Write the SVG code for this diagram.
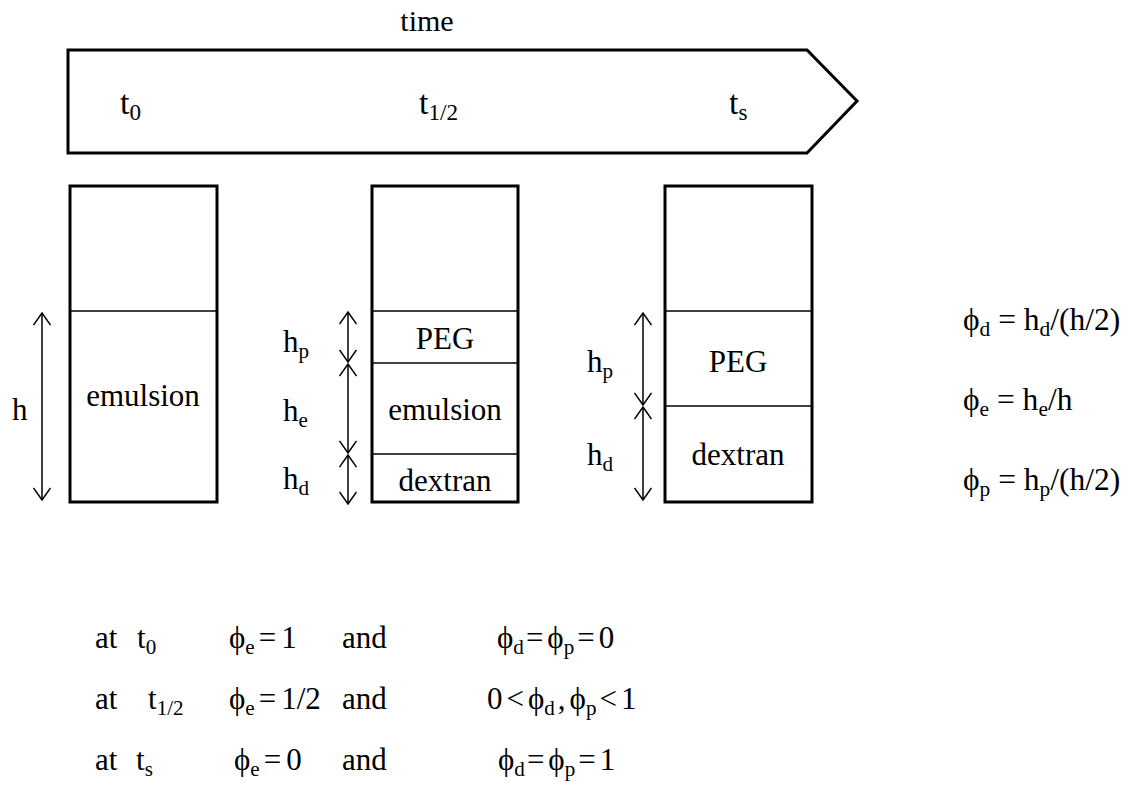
<svg xmlns="http://www.w3.org/2000/svg" width="1132" height="789" viewBox="0 0 1132 789">
<style>
text{font-family:"Liberation Serif","Times New Roman",serif;fill:#000}
.t{font-size:34px}
.l{font-size:31px}
.f{font-size:31.5px}
.b{font-size:31px}
.tm{font-size:30px}
.s{font-size:0.68em}
.box{fill:none;stroke:#000;stroke-width:3}
.div{stroke:#000;stroke-width:1.5}
.dim{stroke:#000;stroke-width:1.5;fill:none}
</style>
<defs>
<marker id="ah" viewBox="0 0 14 18" refX="13" refY="9" markerWidth="14" markerHeight="18" markerUnits="userSpaceOnUse" orient="auto-start-reverse">
<path d="M1,0.5 L13,9 L1,17.5" fill="none" stroke="#000" stroke-width="1.5"/>
</marker>
</defs>
<g id="timeline">
<text x="427" y="31" text-anchor="middle" class="tm">time</text>
<path d="M68,50 L807,50 L857,101 L807,153 L68,153 Z" fill="none" stroke="#000" stroke-width="3"/>
<text x="120" y="114" class="t">t<tspan class="s" dy="6">0</tspan></text>
<text x="419" y="114" class="t">t<tspan class="s" dy="6">1/2</tspan></text>
<text x="729" y="114" class="t">t<tspan class="s" dy="6">s</tspan></text>
</g>
<g id="box-t0">
<rect x="70" y="186" width="147" height="316" class="box"/>
<line x1="70" y1="311" x2="217" y2="311" class="div"/>
<text x="143" y="406" text-anchor="middle" class="l">emulsion</text>
</g>
<g id="box-thalf">
<rect x="372" y="186" width="146" height="316" class="box"/>
<line x1="372" y1="311" x2="518" y2="311" class="div"/>
<line x1="372" y1="363" x2="518" y2="363" class="div"/>
<line x1="372" y1="454" x2="518" y2="454" class="div"/>
<text x="445" y="349" text-anchor="middle" class="l">PEG</text>
<text x="445" y="420" text-anchor="middle" class="l">emulsion</text>
<text x="445" y="491" text-anchor="middle" class="l">dextran</text>
</g>
<g id="box-ts">
<rect x="665" y="186" width="147" height="316" class="box"/>
<line x1="665" y1="311" x2="812" y2="311" class="div"/>
<line x1="665" y1="406" x2="812" y2="406" class="div"/>
<text x="738" y="372" text-anchor="middle" class="l">PEG</text>
<text x="738" y="465" text-anchor="middle" class="l">dextran</text>
</g>
<g id="connectors">
<line x1="42" y1="313" x2="42" y2="500" class="dim" marker-start="url(#ah)" marker-end="url(#ah)"/>
<line x1="348" y1="312" x2="348" y2="362" class="dim" marker-start="url(#ah)" marker-end="url(#ah)"/>
<line x1="348" y1="364" x2="348" y2="453" class="dim" marker-start="url(#ah)" marker-end="url(#ah)"/>
<line x1="348" y1="455" x2="348" y2="504" class="dim" marker-start="url(#ah)" marker-end="url(#ah)"/>
<line x1="643" y1="313" x2="643" y2="405" class="dim" marker-start="url(#ah)" marker-end="url(#ah)"/>
<line x1="643" y1="407" x2="643" y2="500" class="dim" marker-start="url(#ah)" marker-end="url(#ah)"/>
</g>
<g id="labels">
<text x="12" y="420" class="l">h</text>
<text x="283" y="352" class="l">h<tspan class="s" dy="6">p</tspan></text>
<text x="283" y="421" class="l">h<tspan class="s" dy="6">e</tspan></text>
<text x="283" y="489" class="l">h<tspan class="s" dy="6">d</tspan></text>
<text x="587" y="372" class="l">h<tspan class="s" dy="6">p</tspan></text>
<text x="587" y="465" class="l">h<tspan class="s" dy="6">d</tspan></text>
</g>
<g id="formulas">
<text x="963" y="330" class="f">ϕ<tspan class="s" dy="6">d</tspan><tspan dy="-6"> = h</tspan><tspan class="s" dy="6">d</tspan><tspan dy="-6">/(h/2)</tspan></text>
<text x="963" y="410" class="f">ϕ<tspan class="s" dy="6">e</tspan><tspan dy="-6"> = h</tspan><tspan class="s" dy="6">e</tspan><tspan dy="-6">/h</tspan></text>
<text x="963" y="490" class="f">ϕ<tspan class="s" dy="6">p</tspan><tspan dy="-6"> = h</tspan><tspan class="s" dy="6">p</tspan><tspan dy="-6">/(h/2)</tspan></text>
</g>
<g id="conditions">
<text x="95" y="648" class="b">at</text>
<text x="137" y="648" class="b">t<tspan class="s" dy="6">0</tspan></text>
<text x="229" y="648" class="b">ϕ<tspan class="s" dy="6">e</tspan><tspan dy="-6" dx="4">=</tspan><tspan dx="5">1</tspan></text>
<text x="342" y="648" class="b">and</text>
<text x="497" y="648" class="b">ϕ<tspan class="s" dy="6">d</tspan><tspan dy="-6" dx="2">=</tspan><tspan dx="4">ϕ</tspan><tspan class="s" dy="6">p</tspan><tspan dy="-6" dx="3">=</tspan><tspan dx="4">0</tspan></text>
<text x="95" y="709" class="b">at</text>
<text x="148" y="709" class="b">t<tspan class="s" dy="6">1/2</tspan></text>
<text x="229" y="709" class="b">ϕ<tspan class="s" dy="6">e</tspan><tspan dy="-6" dx="4">=</tspan><tspan dx="5">1/2</tspan></text>
<text x="342" y="709" class="b">and</text>
<text x="487" y="709" class="b">0<tspan dx="4">&lt;</tspan><tspan dx="4">ϕ</tspan><tspan class="s" dy="6">d</tspan><tspan dy="-6" dx="3">,</tspan><tspan dx="4">ϕ</tspan><tspan class="s" dy="6">p</tspan><tspan dy="-6" dx="3">&lt;</tspan><tspan dx="4">1</tspan></text>
<text x="95" y="770" class="b">at</text>
<text x="136" y="770" class="b">t<tspan class="s" dy="6">s</tspan></text>
<text x="234" y="770" class="b">ϕ<tspan class="s" dy="6">e</tspan><tspan dy="-6" dx="4">=</tspan><tspan dx="5">0</tspan></text>
<text x="342" y="770" class="b">and</text>
<text x="498" y="770" class="b">ϕ<tspan class="s" dy="6">d</tspan><tspan dy="-6" dx="2">=</tspan><tspan dx="4">ϕ</tspan><tspan class="s" dy="6">p</tspan><tspan dy="-6" dx="3">=</tspan><tspan dx="4">1</tspan></text>
</g>
</svg>
